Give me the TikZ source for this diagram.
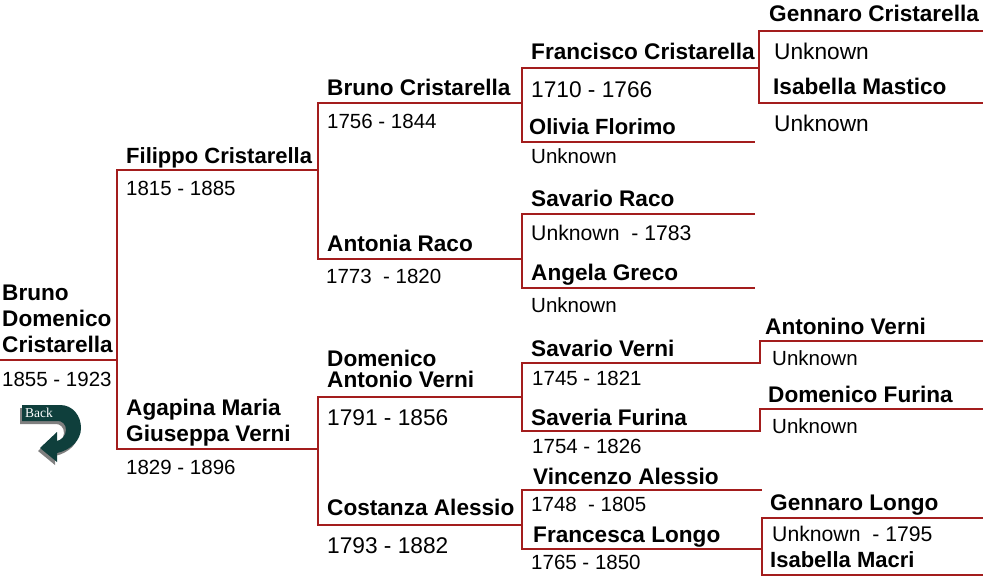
\documentclass[tikz,border=0pt]{standalone}
\usepackage{fontspec}
\setmainfont{Liberation Sans}
\newfontfamily\backfont{Liberation Serif}
\definecolor{linkred}{HTML}{A31D1D}
\definecolor{backgreen}{HTML}{0F3F3C}
\tikzset{
    person/.style = {
        anchor=base west,
        inner sep=0pt,
        font=\fontsize{22.6}{22.6}\selectfont\bfseries
    },
    slimperson/.style = {
        person,
        font=\fontsize{22}{22}\selectfont\bfseries
    },
    dates/.style = {
        anchor=base west,
        inner sep=0pt,
        font=\fontsize{20.5}{20.5}\selectfont
    },
    middates/.style = {
        dates,
        font=\fontsize{21.2}{21.2}\selectfont
    },
    bigdates/.style = {
        dates,
        font=\fontsize{22.7}{22.7}\selectfont
    },
    link/.style = {
        draw=linkred,
        line width=1.6pt,
        line cap=rect
    }
}

\begin{document}
\begin{tikzpicture}[x=1pt,y=-1pt]
\useasboundingbox (0,0) rectangle (983,579);
% generation 1
\node[person] (rootA) at (2,300) {Bruno};
\node[person] (rootB) at (2,326) {Domenico};
\node[person] (rootC) at (2,352) {Cristarella};
\node[dates] (rootD) at (2,386) {1855 - 1923};
% generation 2
\node[slimperson] (filippo) at (126,163) {Filippo Cristarella};
\node[dates] (filippoD) at (126,195) {1815 - 1885};
\node[person] (agapinaA) at (126,415) {Agapina Maria};
\node[person] (agapinaB) at (126,441) {Giuseppa Verni};
\node[dates] (agapinaD) at (126,474) {1829 - 1896};
% generation 3
\node[person] (bruno) at (327,95) {Bruno Cristarella};
\node[dates] (brunoD) at (327,128) {1756 - 1844};
\node[person] (antonia) at (327,251) {Antonia Raco};
\node[dates] (antoniaD) at (326,283) {1773\ \ - 1820};
\node[person] (domenicoA) at (327,366) {Domenico};
\node[person] (domenicoB) at (327,387) {Antonio Verni};
\node[bigdates] (domenicoD) at (327,425) {1791 - 1856};
\node[person] (costanza) at (327,515) {Costanza Alessio};
\node[bigdates] (costanzaD) at (327,553) {1793 - 1882};
% generation 4
\node[person] (francisco) at (531,59) {Francisco Cristarella};
\node[bigdates] (franciscoD) at (531,97) {1710 - 1766};
\node[slimperson] (olivia) at (529,134) {Olivia Florimo};
\node[dates] (oliviaD) at (531,163) {Unknown};
\node[person] (savarioR) at (531,206) {Savario Raco};
\node[middates] (savarioRD) at (531,240) {Unknown\ \ - 1783};
\node[person] (angela) at (531,280) {Angela Greco};
\node[dates] (angelaD) at (531,312) {Unknown};
\node[person] (savarioV) at (531,356) {Savario Verni};
\node[dates] (savarioVD) at (532,385) {1745 - 1821};
\node[person] (saveria) at (531,425) {Saveria Furina};
\node[dates] (saveriaD) at (532,453) {1754 - 1826};
\node[person] (vincenzo) at (533,484) {Vincenzo Alessio};
\node[dates] (vincenzoD) at (531,511) {1748\ \ - 1805};
\node[person] (francesca) at (533,542) {Francesca Longo};
\node[dates] (francescaD) at (531,569) {1765 - 1850};
% generation 5
\node[person] (gennaroC) at (769,21) {Gennaro Cristarella};
\node[bigdates] (gennaroCD) at (774,59) {Unknown};
\node[person] (isabellaM) at (773,94) {Isabella Mastico};
\node[bigdates] (isabellaMD) at (774,131) {Unknown};
\node[person] (antonino) at (765,334) {Antonino Verni};
\node[dates] (antoninoD) at (772,365) {Unknown};
\node[person] (domenicoF) at (768,402) {Domenico Furina};
\node[dates] (domenicoFD) at (772,433) {Unknown};
\node[person] (gennaroL) at (770,510) {Gennaro Longo};
\node[middates] (gennaroLD) at (772,541) {Unknown\ \ - 1795};
\node[slimperson] (isabellaC) at (770,567) {Isabella Macri};
% line ends
\coordinate (rootL) at (0,360);
\coordinate (rootR) at (117,360);
\coordinate (j1a) at (117,170);
\coordinate (j1b) at (117,449);
\coordinate (j2a) at (318,170);
\coordinate (j2b) at (318,449);
\coordinate (j3a) at (318,103);
\coordinate (j3b) at (318,259);
\coordinate (j3c) at (318,397);
\coordinate (j3d) at (318,525);
\coordinate (j4a) at (522,103);
\coordinate (j4b) at (522,259);
\coordinate (j4c) at (522,397);
\coordinate (j4d) at (522,525);
\coordinate (j5a) at (522,68);
\coordinate (j5b) at (522,142);
\coordinate (j5c) at (522,214);
\coordinate (j5d) at (522,288);
\coordinate (j5e) at (522,363);
\coordinate (j5f) at (522,431);
\coordinate (j5g) at (522,490);
\coordinate (j5h) at (522,549);
\coordinate (e5a) at (759,68);
\coordinate (e5b) at (754,142);
\coordinate (e5c) at (754,214);
\coordinate (e5d) at (754,288);
\coordinate (e5e) at (760,363);
\coordinate (e5f) at (760,431);
\coordinate (e5g) at (761,490);
\coordinate (e5h) at (762,549);
\coordinate (j6a) at (759,31);
\coordinate (j6b) at (759,103);
\coordinate (j6c) at (760,341);
\coordinate (j6d) at (760,409);
\coordinate (j6e) at (762,518);
\coordinate (j6f) at (762,575);
\coordinate (e6a) at (983,31);
\coordinate (e6b) at (983,103);
\coordinate (e6c) at (983,341);
\coordinate (e6d) at (983,409);
\coordinate (e6e) at (983,518);
\coordinate (e6f) at (983,575);
% connectors
\draw[link] (rootL) -- (rootR);
\draw[link] (e6a) -- (j6a) -- (j6b) -- (e6b);
\draw[link] (j2a) -- (j1a) -- (j1b) -- (j2b);
\draw[link] (j4a) -- (j3a) -- (j3b) -- (j4b);
\draw[link] (j4c) -- (j3c) -- (j3d) -- (j4d);
\draw[link] (e5a) -- (j5a) -- (j5b) -- (e5b);
\draw[link] (e5c) -- (j5c) -- (j5d) -- (e5d);
\draw[link] (e5e) -- (j5e) -- (j5f) -- (e5f);
\draw[link] (e5g) -- (j5g) -- (j5h) -- (e5h);
\draw[link] (e5a) -- (j6a);
\draw[link] (e5e) -- (j6c) -- (e6c);
\draw[link] (e5f) -- (j6d) -- (e6d);
\draw[link] (e6e) -- (j6e) -- (j6f) -- (e6f);
% back arrow
\foreach \shift/\col in {{(-2,3)}/gray, {(0,0)}/backgreen}
    \fill[\col, shift={\shift}] (22,405) -- (60,405)
        .. controls (73,405) and (81,416) .. (81,428)
        .. controls (81,440) and (71,450) .. (57,453)
        -- (57,462) -- (40,448) -- (57,432) -- (57,441)
        .. controls (61,440) and (66,436) .. (66,430)
        .. controls (66,424) and (62,421) .. (58,421)
        -- (22,421) -- cycle;
\node[inner sep=0pt, anchor=base west, text=white,
    font=\fontsize{13.5}{13.5}\selectfont\backfont] (back) at (25,417) {Back};
\end{tikzpicture}
\end{document}
